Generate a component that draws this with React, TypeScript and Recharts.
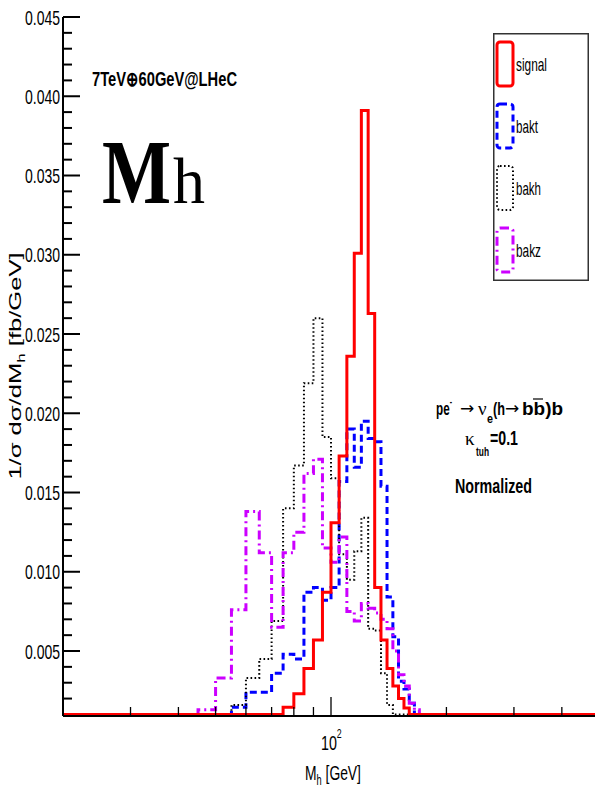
import React from "react";
import { ComposedChart, Line, XAxis, YAxis, Legend } from "recharts";

// 5 GeV bins (lower edges), last bin ends at 170
const binLow = [45, 50, 55, 60, 65, 70, 75, 80, 85, 90, 95, 100, 105, 110, 115, 120, 125, 130, 135, 140, 145, 150, 155, 160, 165];
const lastBinHigh = 170;

const signal = [0, 0, 0, 0, 0, 0, 0.00145, 0.0023, 0.0039, 0.0057, 0.0087, 0.0131, 0.0173, 0.0236, 0.0301, 0.0391, 0.0263, 0.009, 0.0057, 0.0039, 0.0028, 0.002, 0.0014, 0, 0];
const bakt = [0, 0, 0.00145, 0.0024, 0.0024, 0.0036, 0.0048, 0.0045, 0.0087, 0.009, 0.0082, 0.009, 0.0157, 0.019, 0.0166, 0.0195, 0.0184, 0.0182, 0.0154, 0.0084, 0.0059, 0.0031, 0.0026, 0.0017, 0];
const bakh = [0, 0, 0.0016, 0.0033, 0.0045, 0.0069, 0.014, 0.0167, 0.0219, 0.026, 0.0185, 0.0159, 0.0111, 0.0095, 0.0113, 0.0134, 0.0064, 0.0063, 0.0036, 0.0016, 0, 0, 0, 0, 0];
const bakz = [0.0013, 0.0033, 0.0076, 0.0138, 0.0112, 0.0065, 0.0112, 0.0125, 0.0162, 0.0171, 0.0115, 0.0106, 0.0122, 0.0075, 0.0069, 0.008, 0.0077, 0.0074, 0.007, 0.0064, 0.005, 0.0035, 0.0028, 0.0017, 0.0013];

const xTicks = [30, 40, 50, 60, 70, 80, 90, 100, 200, 300, 400];

const X_MIN = 20;
const X_MAX = 500;
const Y_MIN = 0.0009;
const Y_MAX = 0.045;
const FLOOR = 0.001; // empty bins sit on the frame bottom

const PLOT_LEFT = 63;
const PLOT_BOTTOM = 716;
const SANS = "'Liberation Sans', Arial, Helvetica, sans-serif";
const SERIF = "'Liberation Serif', 'Times New Roman', serif";

// minor ticks every 0.001, labelled every 0.005
const yTicks: number[] = [];
for (let i = 2; i <= 45; i++) yTicks.push(i / 1000);

const series = [
  { name: "bakt", values: bakt, color: "#0000ff", width: 3, dash: "7 4" },
  { name: "bakh", values: bakh, color: "#000000", width: 2, dash: "1.6 2.4" },
  { name: "bakz", values: bakz, color: "#cc00ff", width: 3, dash: "9 4 2 4" },
  { name: "signal", values: signal, color: "#ff0000", width: 3, dash: undefined },
];
const legendOrder = ["signal", "bakt", "bakh", "bakz"];

function toSteps(values: number[]) {
  const pts = [{ x: X_MIN, y: FLOOR }];
  binLow.forEach((lo, i) => pts.push({ x: lo, y: Math.max(values[i], FLOOR) }));
  pts.push({ x: lastBinHigh, y: FLOOR });
  pts.push({ x: X_MAX, y: FLOOR });
  return pts;
}

const XTick = (props: any) => {
  const { x, payload } = props;
  const major = payload.value === 100;
  return (
    <g>
      <line x1={x} x2={x} y1={PLOT_BOTTOM} y2={PLOT_BOTTOM - (major ? 19 : 9)} stroke="#000" strokeWidth={1.3} />
      {major && (
        <g transform={`translate(${x - 10},750) scale(0.68,1)`} fontFamily={SANS}>
          <text x={0} y={0} fontSize={21}>
            10<tspan dy={-12} fontSize={13}>2</tspan>
          </text>
        </g>
      )}
    </g>
  );
};

const YTick = (props: any) => {
  const { y, payload } = props;
  const v = payload.value;
  const major = Math.round(v * 1000) % 5 === 0;
  return (
    <g>
      <line x1={PLOT_LEFT} x2={PLOT_LEFT + (major ? 17 : 9)} y1={y} y2={y} stroke="#000" strokeWidth={2} />
      {major && (
        <text x={60} y={y} dy="0.36em" textAnchor="end" fontSize={21} fontFamily={SANS}
          textLength={35} lengthAdjust="spacingAndGlyphs">
          {v.toFixed(3)}
        </text>
      )}
    </g>
  );
};

const legendLabelWidth: Record<string, number> = { signal: 31, bakt: 22, bakh: 25, bakz: 25 };

const LegendBox = (props: any) => {
  const payload = props.payload || [];
  const entries = legendOrder
    .map((n) => payload.find((p: any) => p.value === n))
    .filter(Boolean);
  return (
    <svg width={96} height={248} style={{ display: "block" }}>
      <rect x={0.75} y={0.75} width={94.5} height={246.5} fill="#fff" stroke="#333" strokeWidth={1.5} />
      {entries.map((e: any, i: number) => {
        const s = series.find((d) => d.name === e.value)!;
        const top = 9 + i * 62;
        return (
          <g key={e.value}>
            <rect x={4} y={top} width={16} height={44} rx={3} fill="none"
              stroke={e.color} strokeWidth={s.width} strokeDasharray={s.dash} />
            <text x={23} y={top + 22} dominantBaseline="central" fontSize={19} fontFamily={SANS}
              textLength={legendLabelWidth[e.value]} lengthAdjust="spacingAndGlyphs">
              {e.value}
            </text>
          </g>
        );
      })}
    </svg>
  );
};

export default function App() {
  return (
    <div style={{ position: "absolute", left: 0, top: 0, width: 595, height: 795, overflow: "hidden", background: "#fff" }}>
      <ComposedChart width={612} height={795} margin={{ top: 17, right: 13, bottom: 0, left: 0 }}>
        <XAxis xAxisId="b" dataKey="x" type="number" scale="log" domain={[X_MIN, X_MAX]} allowDataOverflow
          ticks={xTicks} interval={0} height={79} tickSize={0} tickMargin={0} tickLine={false}
          axisLine={{ stroke: "#000", strokeWidth: 2 }} tick={<XTick />} />
        <XAxis xAxisId="t" orientation="top" dataKey="x" type="number" scale="log" domain={[X_MIN, X_MAX]}
          allowDataOverflow height={0} tick={false} tickLine={false}
          axisLine={{ stroke: "#000", strokeWidth: 4 }} />
        <YAxis type="number" domain={[Y_MIN, Y_MAX]} allowDataOverflow width={63} ticks={yTicks} interval={0}
          tickSize={0} tickMargin={0} tickLine={false} axisLine={{ stroke: "#000", strokeWidth: 2 }} tick={<YTick />} />
        {series.map((s) => (
          <Line key={s.name} xAxisId="b" name={s.name} data={toSteps(s.values)} dataKey="y" type="stepAfter"
            stroke={s.color} strokeWidth={s.width} strokeDasharray={s.dash} dot={false} activeDot={false}
            isAnimationActive={false} />
        ))}
        <Legend layout="vertical" align="center" verticalAlign="middle"
          wrapperStyle={{ position: "absolute", left: 493, top: 33, width: 96, height: 248 }}
          content={(p: any) => <LegendBox {...p} />} />
      </ComposedChart>

      <svg width={595} height={795} style={{ position: "absolute", left: 0, top: 0, pointerEvents: "none" }}>
        <text x={92} y={86} fontSize={20} fontWeight="bold" fontFamily={SANS} textLength={145} lengthAdjust="spacingAndGlyphs">
          7TeV⊕60GeV@LHeC
        </text>
        <text x={102} y={203} fontFamily={SERIF}>
          <tspan fontSize={92} fontWeight="bold" textLength={69} lengthAdjust="spacingAndGlyphs">M</tspan>
          <tspan x={173} fontSize={66} textLength={32} lengthAdjust="spacingAndGlyphs">h</tspan>
        </text>

        {/* process label */}
        <g fontFamily={SANS} fontWeight="bold">
          <text x={436} y={415} fontSize={18.5} textLength={16} lengthAdjust="spacingAndGlyphs">
            pe<tspan dy={-10} fontSize={11}>-</tspan>
          </text>
          <text x={460} y={414} fontSize={17} fontWeight="normal" fontFamily="'DejaVu Sans', sans-serif">→</text>
          <text x={478} y={415} fontSize={19} fontWeight="normal" fontFamily={SERIF}>ν</text>
          <text x={487} y={423} fontSize={13} textLength={6} lengthAdjust="spacingAndGlyphs">e</text>
          <text x={493} y={415} fontSize={18.5} textLength={12} lengthAdjust="spacingAndGlyphs">(h</text>
          <text x={505} y={414} fontSize={17} fontWeight="normal" fontFamily="'DejaVu Sans', sans-serif">→</text>
          <text x={522} y={415} fontSize={18.5} textLength={41} lengthAdjust="spacingAndGlyphs">bb)b</text>
          <line x1={533} x2={543} y1={399} y2={399} stroke="#000" strokeWidth={1.2} />

          <text x={465} y={445} fontSize={19} fontWeight="normal" fontFamily={SERIF}>κ</text>
          <text x={476} y={456} fontSize={13} textLength={13} lengthAdjust="spacingAndGlyphs">tuh</text>
          <text x={490} y={445} fontSize={21} textLength={28} lengthAdjust="spacingAndGlyphs">=0.1</text>

          <text x={455} y={493} fontSize={21} textLength={77} lengthAdjust="spacingAndGlyphs">Normalized</text>
        </g>

        {/* axis titles */}
        <g transform="translate(305,780) scale(0.66,1)" fontFamily={SANS}>
          <text x={0} y={0} fontSize={21}>
            M<tspan dy={5} fontSize={14}>h</tspan><tspan dy={-5}> [GeV]</tspan>
          </text>
        </g>
        <g transform="translate(21,366) rotate(-90) scale(1.55,1)" fontFamily={SANS}>
          <text x={0} y={0} fontSize={16.5} textAnchor="middle">
            1/σ dσ/dM<tspan dy={4} fontSize={11}>h</tspan><tspan dy={-4}>  [fb/GeV]</tspan>
          </text>
        </g>
      </svg>
    </div>
  );
}
